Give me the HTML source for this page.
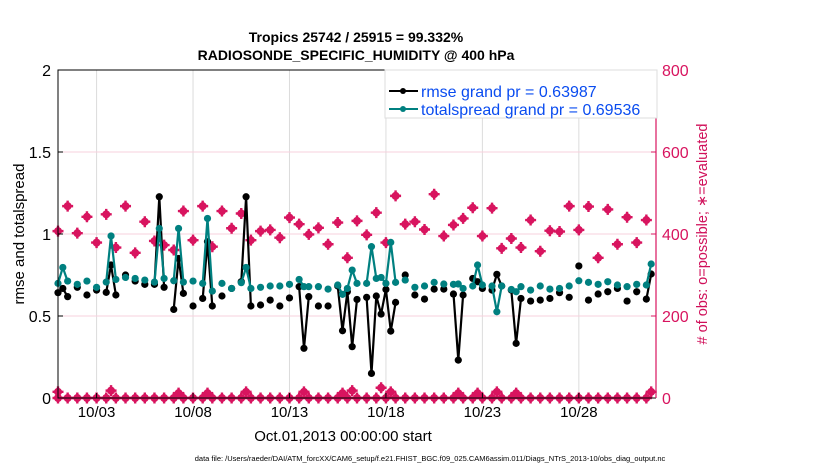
<!DOCTYPE html>
<html><head><meta charset="utf-8"><style>
body{margin:0;background:#fff;}
svg text{font-family:"Liberation Sans",sans-serif;}
</style></head><body>
<svg id="chart" width="830" height="470" xmlns="http://www.w3.org/2000/svg">
<rect width="830" height="470" fill="#fff"/>
<g id="grid"></g>
<g id="marks"></g>
<g id="axes"></g>
<text x="356" y="42" text-anchor="middle" font-size="14" font-weight="bold">Tropics 25742 / 25915 = 99.332%</text>
<text x="356" y="60" text-anchor="middle" font-size="14" font-weight="bold">RADIOSONDE_SPECIFIC_HUMIDITY @ 400 hPa</text>
<text transform="translate(24,234) rotate(-90)" text-anchor="middle" font-size="15">rmse and totalspread</text>
<text transform="translate(707,234) rotate(-90)" text-anchor="middle" font-size="14.5" fill="#d0105a"># of obs: o=possible; ∗=evaluated</text>
<text x="343" y="441" text-anchor="middle" font-size="15">Oct.01,2013 00:00:00 start</text>
<text x="430" y="461" text-anchor="middle" font-size="7.5">data file: /Users/raeder/DAI/ATM_forcXX/CAM6_setup/f.e21.FHIST_BGC.f09_025.CAM6assim.011/Diags_NTrS_2013-10/obs_diag_output.nc</text>
<g>
<rect x="385" y="70" width="272" height="48" fill="#fff" stroke="#ddd"/>
<line x1="389" y1="91" x2="418" y2="91" stroke="#000" stroke-width="2"/><circle cx="403" cy="91" r="3" fill="#000"/>
<text x="421" y="97" font-size="16" fill="#0a4cf0">rmse grand pr = 0.63987</text>
<line x1="389" y1="109" x2="418" y2="109" stroke="#008080" stroke-width="2"/><circle cx="403" cy="109" r="3" fill="#008080"/>
<text x="421" y="115" font-size="16" fill="#0a4cf0">totalspread grand pr = 0.69536</text>
</g>
</svg>
<script>
const times=[0,.25,.5,1,1.5,2,2.5,2.75,3,3.5,4,4.5,5,5.25,5.5,6,6.25,6.5,7,7.5,7.75,8,8.5,9,9.5,9.75,10,10.5,11,11.5,12,12.5,12.75,13,13.5,14,14.5,14.75,15,15.25,15.5,16,16.25,16.5,16.75,17,17.25,17.5,18,18.5,19,19.5,20,20.5,20.75,21,21.5,21.75,22,22.5,22.75,23,23.5,23.75,24,24.5,25,25.5,26,26.5,27,27.5,28,28.5,29,29.5,30,30.5,30.75];
const rmse=[0.642,0.668,0.618,0.675,0.628,0.658,0.644,0.811,0.628,0.75,0.713,0.693,0.693,1.227,0.675,0.54,0.851,0.638,0.561,0.607,0.953,0.561,0.622,0.668,0.709,1.227,0.561,0.567,0.597,0.561,0.61,0.679,0.303,0.618,0.561,0.561,0.683,0.41,0.648,0.313,0.601,0.614,0.15,0.622,0.512,0.662,0.408,0.583,0.75,0.628,0.603,0.664,0.664,0.634,0.231,0.628,0.729,0.709,0.668,0.658,0.754,0.683,0.658,0.333,0.607,0.591,0.597,0.607,0.642,0.614,0.805,0.597,0.634,0.648,0.668,0.591,0.648,0.603,0.756];
const spread=[0.699,0.796,0.713,0.693,0.713,0.675,0.707,0.988,0.723,0.735,0.729,0.719,0.707,1.034,0.729,0.715,1.034,0.707,0.713,0.699,1.095,0.652,0.699,0.668,0.703,0.796,0.668,0.675,0.683,0.683,0.693,0.723,0.679,0.679,0.679,0.664,0.689,0.632,0.668,0.78,0.699,0.699,0.923,0.729,0.735,0.699,0.949,0.705,0.719,0.675,0.683,0.705,0.695,0.693,0.695,0.668,0.683,0.811,0.689,0.683,0.526,0.683,0.662,0.648,0.679,0.658,0.683,0.664,0.668,0.683,0.715,0.705,0.693,0.709,0.689,0.679,0.693,0.689,0.817];
const obsTimes=[0,.5,1,1.5,2,2.5,3,3.5,4,4.5,5,5.5,6,6.5,7,7.5,8,8.5,9,9.5,10,10.5,11,11.5,12,12.5,13,13.5,14,14.5,15,15.5,16,16.5,17,17.5,18,18.5,19,19.5,20,20.5,21,21.5,22,22.5,23,23.5,24,24.5,25,25.5,26,26.5,27,27.5,28,28.5,29,29.5,30,30.5];
const obsCount=[407,468,402,442,379,448,367,468,354,430,383,373,361,456,385,468,369,456,414,450,385,407,410,391,440,424,399,415,375,428,342,432,398,452,379,493,424,430,411,497,395,422,438,464,395,463,365,389,367,434,358,408,406,468,410,467,342,460,375,441,379,434];
const lowTimes=[0,2.75,6.25,7.75,9.75,12.75,14.75,15.25,16.75,17.25,20.75,21.75,22.75,23.75,30.75];
const lowCount=[15,18,12,12,15,15,12,18,25,15,12,12,15,12,15];
const xTickDays=[2,7,12,17,22,27];
const xTickLabels=['10/03','10/08','10/13','10/18','10/23','10/28'];
const yTicks=[0,0.5,1,1.5,2];
const yTickLabels=['0','0.5','1','1.5','2'];
const y2Ticks=[0,200,400,600,800];

const X0=58,X1=656,Y0=398,Y1=70;
const xS=d=>X0+d*(X1-X0)/31;
const yS=v=>Y0-v*(Y0-Y1)/2;
const y2S=v=>Y0-v*(Y0-Y1)/800;
const NS='http://www.w3.org/2000/svg';
function mk(tag,attrs,parent){const e=document.createElementNS(NS,tag);for(const k in attrs)e.setAttribute(k,attrs[k]);parent.appendChild(e);return e;}
const grid=document.getElementById('grid'),marks=document.getElementById('marks'),axes=document.getElementById('axes');
const MAG='#d8145f';
xTickDays.forEach((d,i)=>{
 const l=mk('line',{x1:xS(d),x2:xS(d),y1:Y1,y2:Y0,stroke:'#dcdcdc','stroke-width':1},grid);
 
 
 const t=mk('line',{x1:xS(d),x2:xS(d),y1:Y0,y2:Y0-5,stroke:'#000'},axes);
 
 
 const tx=mk('text',{x:xS(d),y:Y0+19,'text-anchor':'middle','font-size':15},axes);
 tx.textContent=xTickLabels[i];
 
 
});
yTicks.forEach((v,i)=>{
 if(v>0&&v<2){const g=mk('line',{x1:X0,x2:X1,y1:yS(v),y2:yS(v),stroke:'#f7d0dd','stroke-width':1},grid);
 
 }
 const t=mk('line',{x1:X0,x2:X0+5,y1:yS(v),y2:yS(v),stroke:'#000'},axes);
 
 
 const tx=mk('text',{x:X0-7,y:yS(v)+6,'text-anchor':'end','font-size':16},axes);
 tx.textContent=yTickLabels[i];
 
 
});
y2Ticks.forEach(v=>{
 const t=mk('line',{x1:X1,x2:X1-5,y1:y2S(v),y2:y2S(v),stroke:MAG},axes);
 
 
 const tx=mk('text',{x:X1+6,y:y2S(v)+6,'font-size':16,fill:MAG},axes);
 tx.textContent=String(v);
 
 
});
const frame=mk('path',{d:`M${X1},${Y1}H${X0}V${Y0}H${X1}`,fill:'none',stroke:'#000','stroke-width':1},axes);


const r=mk('line',{x1:X1,x2:X1,y1:Y1,y2:Y0,stroke:MAG,'stroke-width':1.2},axes);



function star(cx,cy,name){
 const g=mk('g',{},marks);
 
 
 mk('circle',{cx:cx,cy:cy,r:4,fill:MAG},g);
 mk('path',{d:`M${cx-5.5},${cy}H${cx+5.5}M${cx},${cy-5.5}V${cy+5.5}`,stroke:MAG,'stroke-width':2.4},g);
}
obsTimes.forEach((t,i)=>star(xS(t),y2S(obsCount[i]),'obs-count-marker'));
obsTimes.forEach(t=>star(xS(t),y2S(0),'obs-count-zero-marker'));
lowTimes.forEach((t,i)=>star(xS(t),y2S(lowCount[i]),'obs-count-low-marker'));

function series(vals,color,name){
 let d='';
 for(let i=0;i<times.length;i++){
  const cont=i>0&&times[i]-times[i-1]<=0.26;
  d+=(cont?'L':'M')+xS(times[i]).toFixed(1)+','+yS(vals[i]).toFixed(1);
 }
 const p=mk('path',{d:d,fill:'none',stroke:color,'stroke-width':2.2,'stroke-linejoin':'round'},marks);
 
 
 times.forEach((t,i)=>{
  const c=mk('circle',{cx:xS(t),cy:yS(vals[i]),r:3.6,fill:color},marks);
  
  
 });
}
series(rmse,'#000','rmse');
series(spread,'#008080','totalspread');
</script>
</body></html>
